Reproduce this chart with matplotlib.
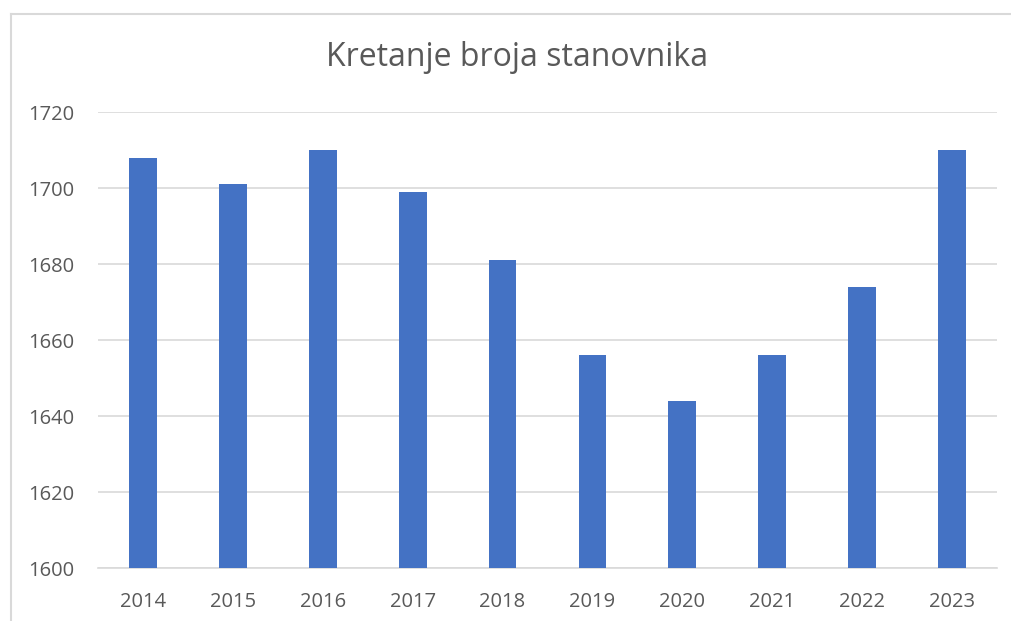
import matplotlib
matplotlib.use("Agg")
import matplotlib.pyplot as plt
from matplotlib.lines import Line2D

years = ["2014", "2015", "2016", "2017", "2018", "2019", "2020", "2021", "2022", "2023"]
population = [1708, 1701, 1710, 1699, 1681, 1656, 1644, 1656, 1674, 1710]
y_ticks = [1600, 1620, 1640, 1660, 1680, 1700, 1720]

plt.rcParams['font.family'] = ['Open Sans', 'DejaVu Sans']
text_color = '#595959'
grid_color = '#D9D9D9'
bar_color = '#4472C4'

fig = plt.figure(figsize=(10.12, 6.21), dpi=100)
fig.patch.set_facecolor('white')

# chart border (light gray), left and top only visible
W, H = 1012, 621
fig.lines.append(Line2D([10.5 / W, 10.5 / W], [0, 1 - 13.5 / H], transform=fig.transFigure,
                        color=grid_color, linewidth=1.5))
fig.lines.append(Line2D([10.5 / W, 1.0], [1 - 13.5 / H, 1 - 13.5 / H], transform=fig.transFigure,
                        color=grid_color, linewidth=1.5))

ax = fig.add_axes([98 / W, 1 - 568 / H, (997 - 98) / W, (568 - 112) / H])
x = list(range(len(years)))
ax.bar(x, population, width=0.31, color=bar_color, zorder=3)
ax.set_xlim(-0.5, len(years) - 0.5)
ax.set_ylim(1600, 1720)
ax.set_yticks(y_ticks)
ax.set_xticks(x)
ax.set_xticklabels(years)
ax.tick_params(axis='both', length=0, labelsize=14.5, colors=text_color)
ax.tick_params(axis='y', pad=17)
ax.tick_params(axis='x', pad=17)
ax.yaxis.grid(True, color=grid_color, linewidth=1.2, zorder=0)
ax.xaxis.grid(False)
for s in ['top', 'right', 'left']:
    ax.spines[s].set_visible(False)
ax.spines['bottom'].set_color(grid_color)
ax.spines['bottom'].set_linewidth(1.2)

fig.text((327 + 708) / 2 / W, 1 - 58 / H, "Kretanje broja stanovnika",
         ha='center', va='center', fontsize=23, color=text_color)

fig.savefig("out.png", dpi=100)
